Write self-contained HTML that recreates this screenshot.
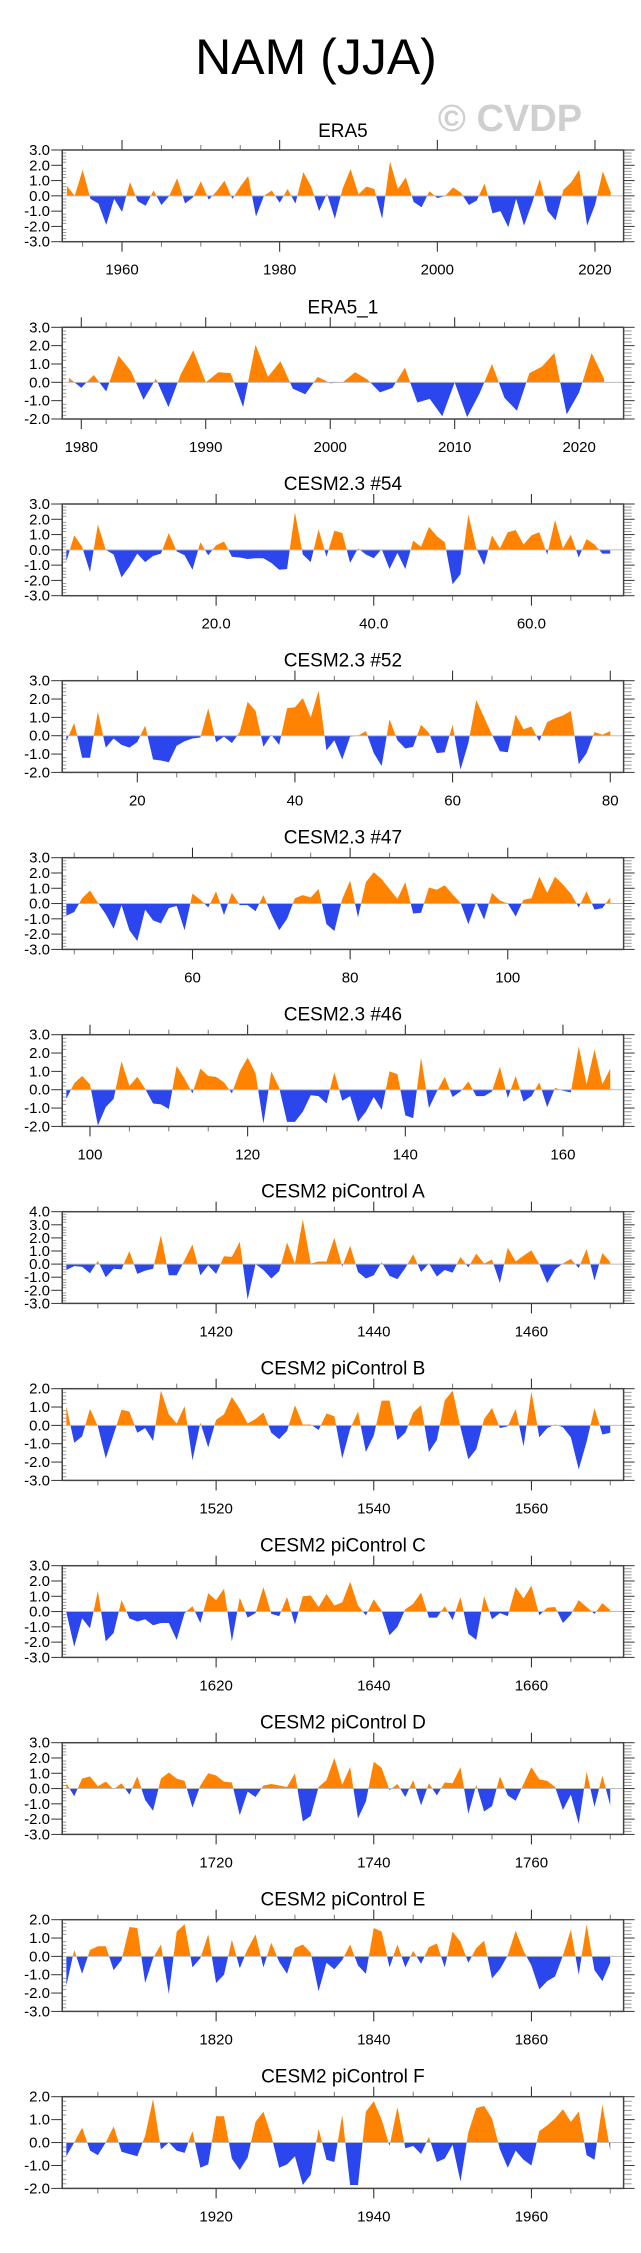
<!DOCTYPE html>
<html><head><meta charset="utf-8"><style>
html,body{margin:0;padding:0;background:#fff;}
svg{display:block;font-family:"Liberation Sans",sans-serif;}
</style></head><body>
<svg id="chart" width="641" height="2253" viewBox="0 0 641 2253" xmlns="http://www.w3.org/2000/svg">
<text x="316" y="74" font-size="50" text-anchor="middle" fill="#000">NAM (JJA)</text>
<text x="510" y="131" font-size="38" font-weight="bold" text-anchor="middle" fill="#cfcfcf">© CVDP</text>
</svg>
<script>
const titles = ["ERA5","ERA5_1","CESM2.3 #54","CESM2.3 #52","CESM2.3 #47","CESM2.3 #46","CESM2 piControl A","CESM2 piControl B","CESM2 piControl C","CESM2 piControl D","CESM2 piControl E","CESM2 piControl F"];
const startValues = [1953,1979,1,11,44,97,1401,1501,1601,1701,1801,1901];
const yMins = [-3,-2,-3,-2,-3,-2,-3,-3,-3,-3,-3,-2];
const yMaxs = [3,3,3,3,3,3,4,2,3,3,2,2];
const xMajorTicks = [[1960,1980,2000,2020],[1980,1990,2000,2010,2020],[20,40,60],[20,40,60,80],[60,80,100],[100,120,140,160],[1420,1440,1460],[1520,1540,1560],[1620,1640,1660],[1720,1740,1760],[1820,1840,1860],[1920,1940,1960]];
const xTickLabels = [["1960","1980","2000","2020"],["1980","1990","2000","2010","2020"],["20.0","40.0","60.0"],["20","40","60","80"],["60","80","100"],["100","120","140","160"],["1420","1440","1460"],["1520","1540","1560"],["1620","1640","1660"],["1720","1740","1760"],["1820","1840","1860"],["1920","1940","1960"]];
const xMinorSteps = [5,2,5,5,5,5,5,5,5,5,5,5];
const vals1 = [0.65,0.0,1.7,-0.2,-0.5,-1.9,-0.2,-1.05,0.9,-0.35,-0.65,0.35,-0.6,0.0,1.15,-0.5,-0.1,0.95,-0.25,0.3,1.0,-0.2,0.6,1.3,-1.35,0.0,0.35,-0.45,0.45,-0.5,1.55,0.6,-1.0,0.15,-1.5,0.5,1.75,0.1,0.6,0.45,-1.5,2.25,0.45,1.2,-0.4,-0.75,0.3,-0.15,0.0,0.55,0.2,-0.6,-0.3,0.8,-1.15,-1.0,-2.05,-0.2,-1.95,-0.5,1.1,-1.0,-1.6,0.4,0.9,1.7,-1.95,-0.6,1.6,0.2];
const vals2 = [0.25,-0.3,0.4,-0.5,1.45,0.6,-0.95,0.2,-1.35,0.45,1.75,0.0,0.55,0.5,-1.35,2.05,0.3,1.15,-0.35,-0.65,0.3,-0.05,0.0,0.55,0.15,-0.55,-0.3,0.8,-1.1,-0.9,-1.85,0.0,-1.9,-0.6,1.0,-0.85,-1.55,0.5,0.85,1.6,-1.75,-0.55,1.6,0.2];
const vals3 = [-0.75,0.95,0.2,-1.45,1.65,0.0,-0.3,-1.8,-1.1,-0.25,-0.8,-0.4,-0.25,1.1,-0.1,-0.35,-1.3,0.5,-0.35,0.3,0.55,-0.45,-0.5,-0.6,-0.55,-0.55,-0.85,-1.3,-1.25,2.45,-0.3,-0.8,1.35,-0.45,1.25,1.1,-0.85,0.1,-0.3,-0.55,0.05,-1.25,-0.2,-1.25,0.6,0.2,1.5,0.9,0.5,-2.25,-1.6,2.3,0.1,-1.0,0.95,0.1,1.15,1.3,0.35,0.95,1.15,-0.3,1.95,0.1,1.0,-0.5,0.7,0.35,-0.25,-0.25];
const vals4 = [-0.3,0.7,-1.2,-1.2,1.3,-0.65,-0.15,-0.5,-0.65,-0.35,0.55,-1.3,-1.35,-1.45,-0.55,-0.3,-0.15,-0.1,1.5,-0.35,-0.05,-0.4,0.2,1.85,1.35,-0.6,0.05,-0.5,1.5,1.55,2.05,1.0,2.45,-0.8,-0.25,-1.3,-0.05,0.0,0.25,-0.95,-1.65,0.9,-0.25,-0.7,-0.6,0.6,0.15,-0.95,-0.9,0.6,-1.85,-0.4,1.95,1.0,0.05,-0.85,-0.9,1.15,0.35,0.5,-0.3,0.75,0.95,1.1,1.35,-1.55,-0.95,0.2,0.05,0.25];
const vals5 = [-0.8,-0.55,0.35,0.85,0.05,-0.7,-1.65,-0.1,-1.75,-2.45,-0.4,-1.1,-1.3,-0.3,-0.15,-1.75,0.65,0.25,-0.25,0.8,-0.75,0.7,-0.1,-0.1,-0.5,0.55,-0.7,-1.75,-1.0,0.35,0.55,0.4,0.95,-1.35,-1.8,0.3,1.5,-0.9,1.4,2.05,1.6,0.95,0.3,1.4,-0.65,-0.6,1.05,0.9,1.2,0.6,0.05,-1.35,0.1,-1.05,0.7,0.2,0.0,-0.85,0.25,0.35,1.75,0.7,1.75,1.25,0.65,-0.25,0.8,-0.4,-0.3,0.4];
const vals6 = [-0.5,0.35,0.75,0.3,-1.95,-0.95,-0.5,1.55,0.2,0.7,0.05,-0.75,-0.8,-1.05,1.3,0.6,-0.2,1.15,0.75,0.7,0.4,-0.2,1.0,1.75,0.9,-1.85,1.0,0.1,-1.75,-1.75,-1.2,-0.3,-0.35,-0.75,0.95,-0.6,-0.35,-1.75,-1.2,-0.4,-1.1,1.0,0.85,-1.4,-1.55,1.75,-1.0,-0.1,0.7,-0.4,-0.1,0.45,-0.35,-0.35,-0.1,1.25,-0.45,0.75,-0.65,-0.35,0.4,-0.95,0.1,-0.05,-0.15,2.35,0.3,2.2,0.3,1.15];
const vals7 = [-0.45,-0.15,-0.2,-0.7,0.25,-1.0,-0.35,-0.4,1.0,-0.75,-0.5,-0.35,2.2,-0.85,-0.85,0.3,1.5,-0.85,-0.1,-0.75,0.6,0.55,1.7,-2.7,0.0,-0.45,-1.1,-0.55,1.65,0.05,3.4,0.05,0.2,0.2,2.0,-0.2,1.4,-0.6,-1.1,-0.85,0.15,-0.9,-1.15,-0.3,0.75,-0.6,0.05,-0.95,-0.45,-0.65,0.55,-0.25,0.8,0.05,0.35,-1.45,1.25,0.2,0.65,1.05,0.0,-1.45,-0.4,0.05,0.4,-0.3,1.15,-1.25,0.85,0.15];
const vals8 = [1.05,-0.95,-0.6,0.9,-0.05,-1.8,-0.5,0.85,0.75,-0.4,-0.15,-0.85,1.9,0.6,0.1,1.05,-1.9,0.15,-1.2,0.3,0.6,1.55,0.9,0.1,0.35,0.7,-0.4,-0.75,-0.3,1.1,0.05,0.05,-0.25,0.65,0.5,-1.8,-0.2,0.75,-1.45,-0.55,1.35,1.35,-0.8,-0.4,0.7,1.1,-1.45,-0.8,1.35,1.9,-0.1,-1.85,-1.3,0.35,0.95,-0.15,-0.05,0.9,-1.15,1.85,-0.65,-0.15,0.05,-0.1,-0.65,-2.4,-0.9,0.95,-0.5,-0.4];
const vals9 = [-0.05,-2.3,-0.45,-1.1,1.35,-1.95,-1.4,0.75,-0.45,-0.65,-0.5,-0.9,-0.75,-0.75,-1.85,-0.1,0.35,-0.75,1.2,0.75,1.5,-1.95,0.9,-0.4,-0.1,1.6,-0.15,-0.3,0.95,-0.85,1.0,1.05,0.3,1.15,0.4,0.6,1.95,0.4,-0.25,0.8,0.05,-1.55,-1.0,0.15,0.5,1.25,-0.4,-0.4,0.35,-0.55,0.95,-1.45,-1.85,1.0,-0.5,-0.1,-0.3,1.6,0.85,1.7,-0.25,0.25,0.3,-0.75,-0.2,0.75,0.3,-0.15,0.55,0.1];
const vals10 = [0.35,-0.5,0.65,0.8,0.15,0.45,-0.05,0.35,-0.4,0.8,-0.75,-1.45,0.65,1.05,0.65,0.5,-1.25,0.2,1.0,0.85,0.45,0.4,-1.75,-0.2,-0.55,0.2,0.3,0.2,0.1,1.0,-2.15,-1.8,0.1,0.55,2.0,0.25,1.4,-1.95,-0.85,1.75,1.35,-0.1,0.3,-0.55,0.55,-1.1,0.35,-0.45,0.4,0.35,1.4,-1.65,0.25,-1.5,-1.15,0.8,-0.45,-0.8,0.3,1.4,0.6,0.5,0.1,-1.4,-0.4,-2.3,1.1,-1.2,0.85,-1.1];
const vals11 = [-1.6,0.35,-0.95,0.35,0.55,0.55,-0.75,-0.2,1.6,1.55,-1.45,-0.1,0.65,-2.05,1.35,1.75,-0.6,-0.1,1.2,-1.45,-1.0,0.9,-0.65,0.4,1.2,-0.6,0.75,-0.3,-0.95,0.45,0.65,0.2,-1.9,-0.35,-0.7,-0.2,0.65,-0.5,-0.95,1.55,1.35,-0.6,0.65,-0.6,0.3,-0.4,0.5,0.7,-0.6,1.35,0.8,-0.35,0.45,0.85,-1.2,-0.7,0.05,1.4,0.3,-0.5,-1.8,-1.35,-1.1,0.05,1.45,-1.0,1.75,-0.75,-1.35,-0.35];
const vals12 = [-0.6,0.0,0.65,-0.35,-0.55,0.0,0.7,-0.4,-0.5,-0.6,0.3,1.9,-0.3,0.0,-0.35,-0.45,0.5,-1.1,-0.95,1.15,1.15,-0.7,-1.2,-0.65,0.9,1.35,0.3,-1.1,-0.95,-0.6,-1.85,-1.4,0.6,-0.75,-0.85,1.2,-1.85,-1.85,1.35,1.8,1.0,-0.15,1.55,-0.25,-0.15,-0.5,0.25,-0.85,-0.7,-0.1,-1.7,0.45,1.5,1.6,1.05,-0.3,-1.1,-0.35,-0.75,-1.0,0.5,0.75,1.05,1.45,0.9,1.35,-0.55,-0.75,1.65,-0.35];
const allVals = [vals1,vals2,vals3,vals4,vals5,vals6,vals7,vals8,vals9,vals10,vals11,vals12];

const NS = "http://www.w3.org/2000/svg";
const svg = document.getElementById('chart');
const S = 1.2447;
const BOX_L = 50 * S, BOX_R = 501 * S, BOX_H = 91.7;
const tops = [150,327.3,504,680.7,857.7,1034.7,1211.7,1388.7,1565.7,1742.7,1919.7,2096.7];
function mk(tag, attrs, parent){ const e = document.createElementNS(NS, tag); for (const k in attrs) e.setAttribute(k, attrs[k]); (parent||svg).appendChild(e); return e; }

for (let p = 0; p < 12; p++) {
  const vals = allVals[p];
  const start = startValues[p];
  const step = (p === 1 ? 10 : 6.333) * S;
  const x0 = (p === 1 ? 55.3 : (p === 0 ? 53.7 : 53.3)) * S;
  const top = tops[p], bot = top + BOX_H;
  const ymin = yMins[p], ymax = yMaxs[p];
  const xScale = v => x0 + (v - start) * step;
  const yScale = v => bot - (v - ymin) / (ymax - ymin) * BOX_H;
  const g = mk('g', {});
  
  

  const t = mk('text', {x: (BOX_L + BOX_R) / 2, y: top - (p === 0 ? 13 : 14), 'font-size': 19, 'text-anchor': 'middle', fill: '#000'}, g);
  
  
  t.textContent = titles[p];

  const y0 = yScale(0);
  const idA = 'cpA' + p, idB = 'cpB' + p;
  const defs = mk('defs', {}, g);
  const cA = mk('clipPath', {id: idA}, defs); mk('rect', {x: BOX_L, y: top, width: BOX_R - BOX_L, height: y0 - top}, cA);
  const cB = mk('clipPath', {id: idB}, defs); mk('rect', {x: BOX_L, y: y0, width: BOX_R - BOX_L, height: bot - y0}, cB);
  let pts = xScale(start).toFixed(2) + ',' + y0.toFixed(2) + ' ';
  vals.forEach((v, i) => { pts += xScale(start + i).toFixed(2) + ',' + yScale(v).toFixed(2) + ' '; });
  pts += xScale(start + vals.length - 1).toFixed(2) + ',' + y0.toFixed(2);
  const pos = mk('polygon', {points: pts, fill: '#ff8200', 'clip-path': 'url(#' + idA + ')'}, g);
  
  
  const neg = mk('polygon', {points: pts, fill: '#2a46ec', 'clip-path': 'url(#' + idB + ')'}, g);
  
  
  const zl = mk('line', {x1: BOX_L, x2: BOX_R, y1: y0, y2: y0, stroke: '#bbb', 'stroke-width': 1}, g);
  
  

  for (let k = Math.round(ymin * 5); k <= Math.round(ymax * 5); k++) {
    const v = k / 5, y = yScale(v);
    if (k % 5 === 0) {
      mk('line', {x1: BOX_L - 11, x2: BOX_L, y1: y, y2: y, stroke: '#333', 'stroke-width': 1}, g);
      mk('line', {x1: BOX_R, x2: BOX_R + 11, y1: y, y2: y, stroke: '#333', 'stroke-width': 1}, g);
      const lab = mk('text', {x: 50, y: y + 5, 'font-size': 15, 'text-anchor': 'end', fill: '#000'}, g);
      
      
      lab.textContent = v.toFixed(1);
    } else {
      mk('line', {x1: BOX_L, x2: BOX_L + 4, y1: y, y2: y, stroke: '#999', 'stroke-width': 1}, g);
      mk('line', {x1: BOX_R, x2: BOX_R + 8, y1: y, y2: y, stroke: '#999', 'stroke-width': 1}, g);
    }
  }
  const vL = start + (BOX_L - x0) / step, vR = start + (BOX_R - x0) / step;
  const ms = xMinorSteps[p];
  for (let v = Math.ceil(vL / ms) * ms; v <= vR; v += ms) {
    const x = xScale(v);
    const major = xMajorTicks[p].indexOf(v) >= 0;
    const len = major ? 10 : 5;
    mk('line', {x1: x, x2: x, y1: top - len, y2: top, stroke: major ? '#222' : '#777', 'stroke-width': 1}, g);
    mk('line', {x1: x, x2: x, y1: bot, y2: bot + len, stroke: major ? '#222' : '#777', 'stroke-width': 1}, g);
  }
  xMajorTicks[p].forEach((v, i) => {
    const lab = mk('text', {x: xScale(v), y: bot + 33, 'font-size': 15, 'text-anchor': 'middle', fill: '#000'}, g);
    
    
    lab.textContent = xTickLabels[p][i];
  });
  const box = mk('rect', {x: BOX_L, y: top, width: BOX_R - BOX_L, height: BOX_H, fill: 'none', stroke: '#444', 'stroke-width': 1.5}, g);
  
  
}
</script>
</body></html>
